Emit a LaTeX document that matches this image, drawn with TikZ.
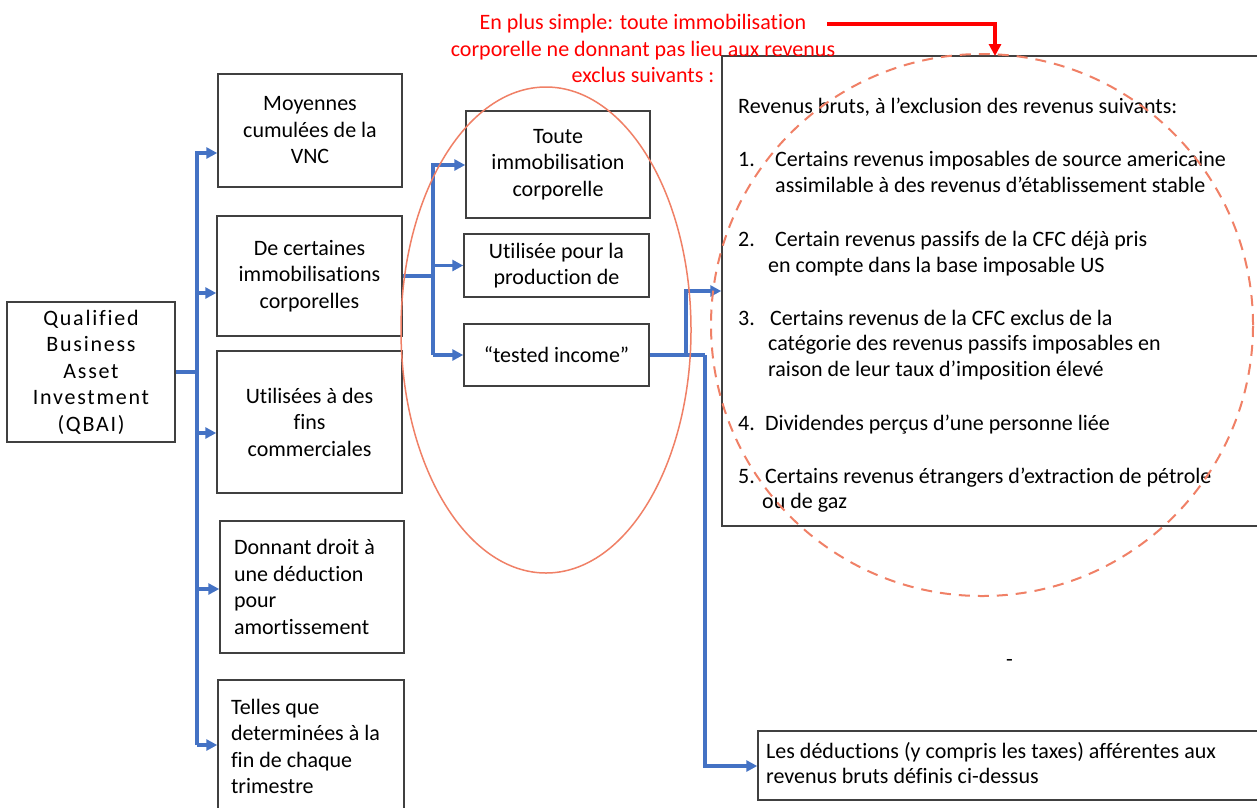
\documentclass[tikz,border=0pt]{standalone}
\usepackage{fontspec}
\setmainfont{Carlito}[Ligatures=NoCommon]
\newfontfamily\spacedfont[LetterSpace=8,Ligatures=NoCommon]{Carlito}
\usetikzlibrary{arrows.meta}
\definecolor{lineblue}{HTML}{4472C4}
\definecolor{salmon}{HTML}{F08066}
\definecolor{boxgray}{HTML}{404040}
\begin{document}
\begin{tikzpicture}[x=1pt,y=-1pt,
  txt/.style={font=\fontsize{22}{26.5}\selectfont},
  box/.style={draw=boxgray,line width=1.5pt,inner sep=0pt,txt,align=center},
  lbox/.style={box,align=flush left},
  line/.style={anchor=base west,inner sep=0pt,txt},
  conn/.style={draw=lineblue,line width=3.4pt,line join=miter},
  arr/.style={conn,-{Triangle[length=11pt,width=11pt]}},
  redarr/.style={draw=red,line width=3.5pt,line join=miter,-{Triangle[length=12pt,width=12pt]}},
]
\fill[white] (0,0) rectangle (1257,807);
\useasboundingbox (0,0) rectangle (1257,807);

% left column
\node[box,minimum width=168,minimum height=140] (q) at (91,372)
  {\spacedfont Qualified\\\spacedfont Business\\\spacedfont Asset\\\spacedfont Investment\\\spacedfont (QBAI)};
\node[box,minimum width=184,minimum height=113] (b1) at (310,130.5) {Moyennes\\cumulées de la\\VNC};
\node[box,minimum width=185,minimum height=120] (b2) at (309.5,276) {De certaines\\immobilisations\\corporelles};
\node[box,minimum width=185,minimum height=142] (b3) at (309.5,422) {Utilisées à des\\fins\\commerciales};
\node[lbox,minimum width=184,minimum height=132,text width=156] (b4) at (312,587) {Donnant droit à\\une déduction\\pour\\amortissement};
\node[lbox,minimum width=186,minimum height=133,text width=160] (b5) at (311,746.5) {Telles que\\determinées à la\\fin de chaque\\trimestre};

% middle column
\node[box,minimum width=184,minimum height=107] (t1) at (558,164.5) {Toute\\immobilisation\\corporelle};
\node[box,minimum width=185,minimum height=63] (u) at (556.5,265.5) {Utilisée pour la\\production de};
\node[box,minimum width=185,minimum height=62] (ti) at (556.5,355) {“tested income”};

% right boxes
\node[draw=boxgray,line width=1.5pt,minimum width=558,minimum height=470,inner sep=0pt] (rb) at (1001,291) {};
\node[draw=boxgray,line width=1.5pt,minimum width=522,minimum height=69,inner sep=0pt] (bb) at (1019,765.5) {};

\node[line] (r0) at (738,113) {Revenus bruts, à l’exclusion des revenus suivants:};
\node[line] (n1) at (738,166) {1.};
\node[line] (r1a) at (775,166) {Certains revenus imposables de source americaine};
\node[line] (r1b) at (775,192) {assimilable à des revenus d’établissement stable};
\node[line] (n2) at (738,246) {2.};
\node[line] (r2a) at (775,246) {Certain revenus passifs de la CFC déjà pris};
\node[line] (r2b) at (768,272) {en compte dans la base imposable US};
\node[line] (n3) at (738,325) {3.};
\node[line] (r3a) at (770,325) {Certains revenus de la CFC exclus de la};
\node[line] (r3b) at (768,350) {catégorie des revenus passifs imposables en};
\node[line] (r3c) at (768,376) {raison de leur taux d’imposition élevé};
\node[line] (n4) at (738,430) {4.};
\node[line] (r4) at (765,430) {Dividendes perçus d’une personne liée};
\node[line] (n5) at (738,483) {5.};
\node[line] (r5a) at (765,483) {Certains revenus étrangers d’extraction de pétrole};
\node[line] (r5b) at (762,508) {ou de gaz};
\node[line] (dash) at (1006,666) {-};

\node[line] (d1) at (766,758) {Les déductions (y compris les taxes) afférentes aux};
\node[line] (d2) at (766,783) {revenus bruts définis ci-dessus};

% red note
\node[txt,text=red,align=center,inner sep=0pt] (rt) at (643,48.5)
  {En plus simple: toute immobilisation\\corporelle ne donnant pas lieu aux revenus\\exclus suivants :};
\coordinate (rs) at (827,24);
\coordinate (rtip) at (995,56);
\draw[redarr] (rs) -| (rtip);

% left connectors
\coordinate (j1) at (197,153);
\coordinate (j2) at (197,293);
\coordinate (j3) at (197,433);
\coordinate (j4) at (197,589);
\coordinate (j5) at (197,745);
\draw[conn] (q.east) -- (q.east -| j1);
\draw[arr] (j5) -- (j1) -- (j1 -| b1.west);
\draw[arr] (j2) -- (j2 -| b2.west);
\draw[arr] (j3) -- (j3 -| b3.west);
\draw[arr] (j4) -- (j4 -| b4.west);
\draw[arr] (j5) -- (j5 -| b5.west);

% middle connectors
\coordinate (k1) at (433,165);
\coordinate (k3) at (433,355);
\draw[conn] (b2.east) -- (b2.east -| k1);
\draw[arr] (k3) -- (k1) -- (k1 -| t1.west);
\draw[arr] (u.west -| k1) -- (u.west);
\draw[arr] (k3) -- (ti.west);

% right connectors
\coordinate (m1) at (686,291);
\coordinate (m2) at (705,766);
\draw[conn] (ti.east) -- (ti.east -| m2);
\draw[arr] (ti.east -| m1) -- (m1) -- (m1 -| rb.west);
\draw[arr] (ti.east -| m2) -- (m2) -- (m2 -| bb.west);

% ellipses
\draw[salmon,line width=1.5pt] (546,330) ellipse [x radius=145pt,y radius=243pt];
\draw[salmon,line width=2pt,dash pattern=on 11pt off 8pt] (982,325) circle [radius=271pt];
\end{tikzpicture}
\end{document}
